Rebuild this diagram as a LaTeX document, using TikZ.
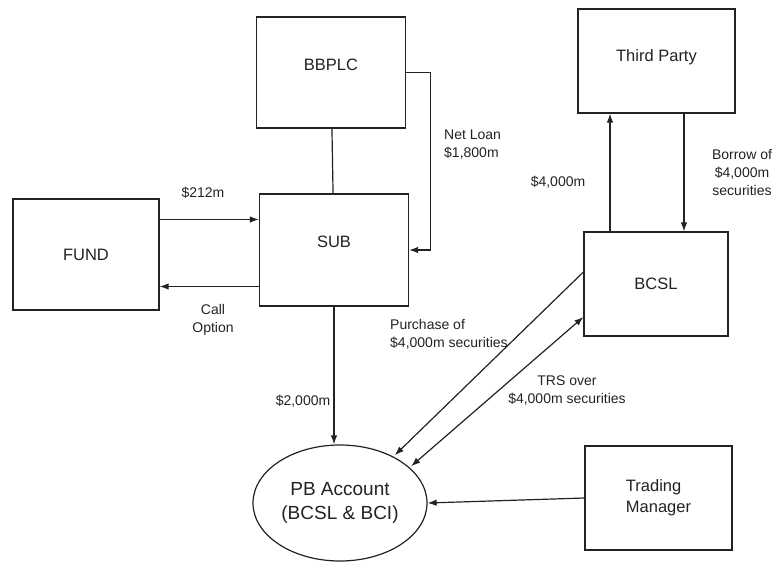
\documentclass[tikz,border=0pt]{standalone}
\usepackage{fontspec}
\setmainfont{Liberation Sans}
\usetikzlibrary{arrows.meta,shapes.geometric,calc}
\definecolor{ink}{HTML}{222222}
\begin{document}
\begin{tikzpicture}[x=1pt,y=-1pt,
  box/.style={draw=ink, line width=1.2pt, inner sep=0pt, text=ink,
    font=\fontsize{16.5}{21}\selectfont, align=center},
  pb/.style={draw=ink, line width=1.2pt, ellipse, inner sep=0pt, text=ink,
    minimum width=174pt, minimum height=116pt,
    font=\fontsize{19}{24}\selectfont, align=center},
  ln/.style={draw=ink, line width=1.2pt},
  arr/.style={ln, -{Latex[length=9pt,width=6.5pt]}},
  darr/.style={ln, {Latex[length=9pt,width=6.5pt]}-{Latex[length=9pt,width=6.5pt]}},
  lbl/.style={font=\fontsize{14}{18}\selectfont, text=ink, inner sep=0pt, align=center}]
\useasboundingbox (0,0) rectangle (779,562);

% nodes
\node[box, minimum width=149pt, minimum height=111pt, text depth=15pt] (BBPLC) at (331,72.5) {BBPLC};
\node[box, minimum width=149pt, minimum height=112pt, text depth=16pt] (SUB) at (334,250) {SUB};
\node[box, minimum width=146pt, minimum height=111pt] (FUND) at (86,254.5) {FUND};
\node[box, minimum width=157pt, minimum height=104pt, text depth=11.5pt] (TP) at (656.5,61) {Third Party};
\node[box, minimum width=144pt, minimum height=104pt] (BCSL) at (656,284) {BCSL};
\node[box, minimum width=147pt, minimum height=104pt, align=left] (TM) at (658.5,498) {Trading\\Manager};
\node[pb] (PB) at (340,503) {PB Account\\(BCSL \& BCI)};

% connectors
\draw[ln] (BBPLC) -- (SUB);
\draw[arr] (BBPLC.east) -- ++(24,0) |- (SUB.east);
\coordinate (f1) at ([yshift=35pt]FUND.east);
\draw[arr] (f1) -- (f1 -| SUB.west);
\coordinate (f2) at ([yshift=-32pt]FUND.east);
\draw[arr] (f2 -| SUB.west) -- (f2);
\draw[arr] (SUB.south) -- (SUB.south |- PB.north);
\coordinate (b1) at ([xshift=-46pt]BCSL.north);
\draw[arr] (b1) -- (b1 |- TP.south);
\coordinate (b2) at ([xshift=27.5pt]TP.south);
\draw[arr] (b2) -- (b2 |- BCSL.north);
\coordinate (p1) at ([yshift=12pt]BCSL.west);
\draw[arr, shorten >=2pt] (p1) -- (PB.41);
\coordinate (p2) at ([yshift=-33pt]BCSL.west);
\draw[darr, shorten <=2pt] (PB.27) -- (p2);
\draw[arr] (TM.west) -- (PB.east);

% labels
\node[lbl] (l212) at (203,193) {\$212m};
\node[lbl] (lcall) at (213,320) {Call\\Option};
\node[lbl, align=left, anchor=west] (lnet) at (444,145) {Net Loan\\\$1,800m};
\node[lbl] (l4000) at (558,182) {\$4,000m};
\node[lbl] (lborrow) at (742,173) {Borrow of\\\$4,000m\\securities};
\node[lbl, align=left, anchor=west] (lpur) at (390,334) {Purchase of\\\$4,000m securities};
\node[lbl] (ltrs) at (567,391) {TRS over\\\$4,000m securities};
\node[lbl] (l2000) at (303,401) {\$2,000m};
\end{tikzpicture}
\end{document}
